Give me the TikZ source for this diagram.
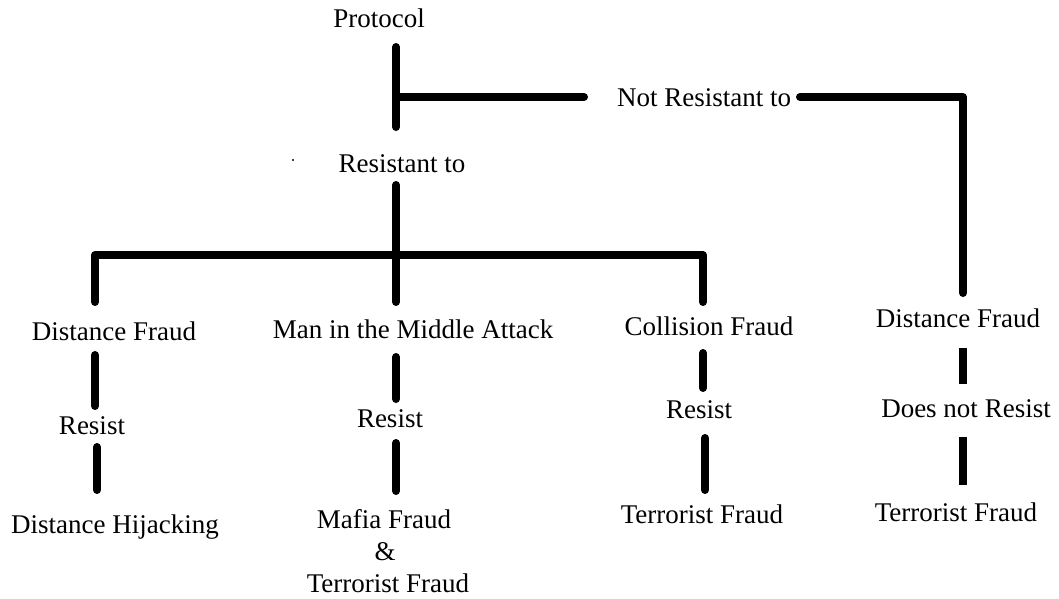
\documentclass[tikz,border=0pt]{standalone}
\usepackage{fontspec}
\setmainfont{Liberation Serif}
\begin{document}
\begin{tikzpicture}[x=1pt,y=-1pt,
  lbl/.style={anchor=base,inner sep=0pt,font=\fontsize{27}{32}\selectfont},
  bar/.style={line width=8pt,line cap=round,line join=round},
  sbar/.style={line width=8pt,line cap=butt}]
\useasboundingbox (0,0) rectangle (1059,598);
% texts
\node[lbl] (proto) at (379,27) {Protocol};
\node[lbl] (notres) at (704,106) {Not Resistant to};
\node[lbl] (res) at (402,172) {Resistant to};
\node[lbl] (df1) at (114,340) {Distance Fraud};
\node[lbl] (mitm) at (413,338) {Man in the Middle Attack};
\node[lbl] (cf) at (709,335) {Collision Fraud};
\node[lbl] (df2) at (958,327) {Distance Fraud};
\node[lbl] (r1) at (92,434) {Resist};
\node[lbl] (r2) at (390,427) {Resist};
\node[lbl] (r3) at (699,418) {Resist};
\node[lbl] (r4) at (966,417) {Does not Resist};
\node[lbl] (dh) at (115,533) {Distance Hijacking};
\node[lbl] (mf) at (384,528) {Mafia Fraud};
\node[lbl] (amp) at (385,560) {\&};
\node[lbl] (tf1) at (388,592) {Terrorist Fraud};
\node[lbl] (tf2) at (702,523) {Terrorist Fraud};
\node[lbl] (tf3) at (956,521) {Terrorist Fraud};
\fill (293,160) circle (1.2);
% coordinates
\coordinate (p1) at (396,47);
\coordinate (p2) at (396,127);
\coordinate (pj) at (396,97);
\coordinate (pe) at (584,97);
\coordinate (n1) at (800,97);
\coordinate (n2) at (963,97);
\coordinate (n3) at (963,293);
\coordinate (rt) at (396,185);
\coordinate (rj) at (396,255);
\coordinate (hl) at (95,255);
\coordinate (hr) at (703,255);
\coordinate (dl) at (95,302);
\coordinate (dm) at (396,302);
\coordinate (dr) at (703,302);
% lines
\draw[bar] (p1) -- (p2);
\draw[bar] (pj) -- (pe);
\draw[bar] (n1) -- (n2) -- (n3);
\draw[bar] (rt) -- (rj);
\draw[bar] (dl) -- (hl) -- (hr) -- (dr);
\draw[bar] (rj) -- (dm);
% left column
\draw[bar] (95,355) -- (95,406);
\draw[bar] (97,447) -- (97,490);
% middle column
\draw[bar] (396,357) -- (396,399);
\draw[bar] (396,443) -- (396,491);
% collision column
\draw[bar] (703,353) -- (703,388);
\draw[bar] (705,438) -- (705,490);
% right column
\draw[sbar] (963,348) -- (963,384);
\draw[sbar] (963,437) -- (963,485);
\end{tikzpicture}
\end{document}
